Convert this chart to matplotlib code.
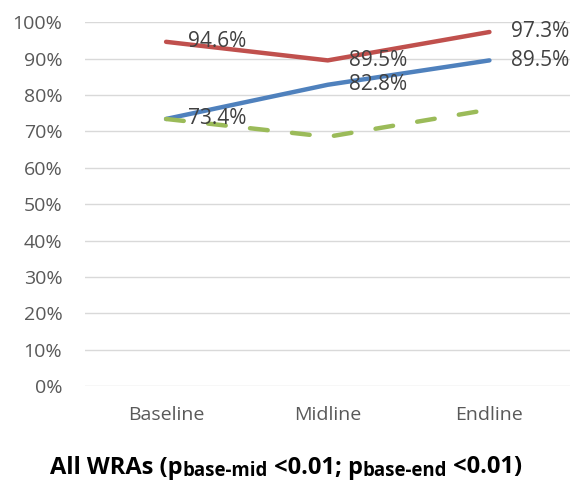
import matplotlib
matplotlib.use("Agg")
import matplotlib.pyplot as plt
from matplotlib.ticker import FuncFormatter

categories = ["Baseline", "Midline", "Endline"]
series_red = [94.6, 89.5, 97.3]
series_blue = [73.4, 82.8, 89.5]
series_green = [73.4, 68.5, 76.0]
yticks = [0, 10, 20, 30, 40, 50, 60, 70, 80, 90, 100]

FONT = "Open Sans"
plt.rcParams['font.family'] = [FONT, 'DejaVu Sans']

fig = plt.figure(figsize=(5.72, 4.82), dpi=100)
ax = fig.add_axes([0.149, 0.199, 0.848, 0.755])

x = list(range(len(categories)))
ax.plot(x, series_red, color="#C0504D", lw=3.2, solid_capstyle="round", zorder=3)
ax.plot(x, series_blue, color="#4F81BD", lw=3.2, solid_capstyle="round", zorder=3)
ax.plot(x, series_green, color="#9BBB59", lw=3.2, dashes=(4.0, 5.5), dash_capstyle="round", zorder=3)

for xs, ys in ((x, series_red), (x, series_blue)):
    for xi, yi in zip(xs, ys):
        ax.annotate(f"{yi:.1f}%", (xi, yi), xytext=(15.5, 0), textcoords="offset points",
                    ha="left", va="center", fontsize=15, color="#404040", zorder=4)

ax.set_xlim(-0.5, 2.5)
ax.set_ylim(0, 100)
ax.set_yticks(yticks)
ax.yaxis.set_major_formatter(FuncFormatter(lambda v, p: f"{v:.0f}%"))
ax.set_xticks(x)
ax.set_xticklabels(categories)
ax.tick_params(axis="both", length=0, labelsize=14, colors="#595959")
ax.tick_params(axis="y", pad=16.5)
ax.tick_params(axis="x", pad=14)
ax.grid(axis="y", color="#D9D9D9", lw=1)
ax.set_axisbelow(True)
for s in ax.spines.values():
    s.set_visible(False)

# Title composed of pieces with subscripts
fig.canvas.draw()
r = fig.canvas.get_renderer()
pieces = [("All WRAs (p", 17, 0), ("base-mid", 13.4, -2.5), (" <0.01; p", 17, 0),
          ("base-end", 13.4, -2.5), (" <0.01)", 17, 0)]
texts = []
for s, fs, dy in pieces:
    t = fig.text(0, 0, s, fontsize=fs, fontweight="bold", color="black", ha="left", va="baseline")
    texts.append((t, dy))
widths = [t.get_window_extent(r).width for t, dy in texts]
total = sum(widths)
start = 572 / 2 - total / 2
base_y = 482 - 473.5
cur = start
for (t, dy), w in zip(texts, widths):
    t.set_position((cur / 572, (base_y + dy) / 482))
    cur += w

fig.savefig("out.png", dpi=100)
